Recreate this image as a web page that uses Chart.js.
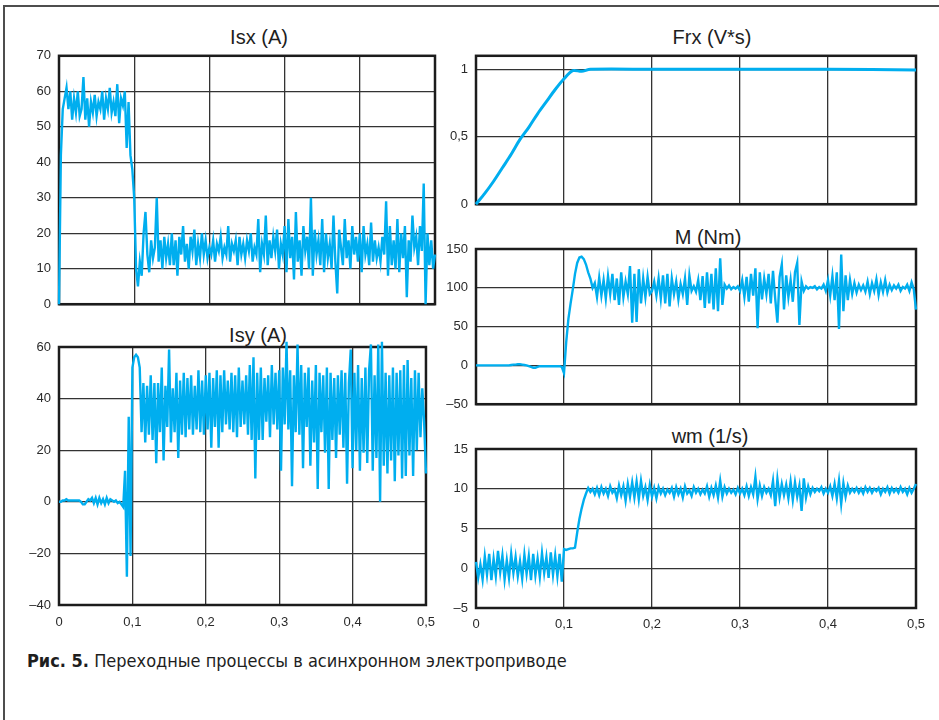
<!DOCTYPE html>
<html>
<head>
<meta charset="utf-8">
<script src="https://cdn.jsdelivr.net/npm/chart.js@4.4.0/dist/chart.umd.min.js"></script>
<style>
body{margin:0;background:#fff;width:939px;height:720px;overflow:hidden;position:relative;font-family:"Liberation Sans",Arial,sans-serif}
.frame{position:absolute;left:3px;top:5px;width:960px;height:740px;border-top:2px solid #4d4d4d;border-left:2px solid #4d4d4d}
canvas{position:absolute}
.ttl{position:absolute;font-size:20px;line-height:20px;color:#1e1e1e;transform:translate(-50%,-50%);white-space:nowrap}
.caption{position:absolute;left:27px;top:649px;font-family:"Liberation Sans Narrow","DejaVu Sans Condensed",sans-serif;font-stretch:condensed;font-size:18px;line-height:24px;color:#1e1e1e;white-space:nowrap}
</style>
</head>
<body>
<div class="frame"></div>

<div class="ttl" style="left:259px;top:37px">Isx (A)</div>
<div class="ttl" style="left:258px;top:335px">Isy (A)</div>
<div class="ttl" style="left:712px;top:37px">Frx (V*s)</div>
<div class="ttl" style="left:708px;top:237px">M (Nm)</div>
<div class="ttl" style="left:710px;top:436px">wm (1/s)</div>

<canvas id="isx" width="445" height="280" style="left:0;top:40px"></canvas>
<canvas id="isy" width="445" height="310" style="left:0;top:330px"></canvas>
<canvas id="frx" width="499" height="180" style="left:440px;top:40px"></canvas>
<canvas id="mom" width="499" height="190" style="left:440px;top:230px"></canvas>
<canvas id="wm" width="499" height="210" style="left:440px;top:430px"></canvas>

<div class="caption"><b>Рис. 5.</b> Переходные процессы в асинхронном электроприводе</div>

<script>
// sample step of the simulated signals, s
var dt = 0.0025;

var isx = [
	0, 42, 55, 58, 61, 55, 60, 52, 58, 54,
	60, 53, 55, 64, 52, 58, 50, 57, 54, 59,
	53, 57, 55, 60, 52, 58, 55, 61, 54, 57,
	53, 62, 51, 58, 56, 60, 44, 57, 42, 38,
	30, 10, 5, 12, 8, 20, 26, 14, 9, 18,
	13, 16, 30, 12, 18, 10, 19, 13, 17, 11,
	20, 11, 18, 8, 19, 14, 22, 12, 17, 10,
	19, 15, 21, 11, 17, 13, 20, 14, 18, 13,
	16, 14, 18, 12, 17, 15, 19, 13, 16, 14,
	22, 12, 17, 15, 18, 11, 19, 14, 17, 13,
	18, 15, 20, 12, 16, 14, 24, 9, 17, 14,
	25, 11, 18, 13, 19, 15, 21, 10, 17, 14,
	22, 9, 24, 13, 19, 7, 26, 12, 18, 8,
	22, 15, 19, 10, 30, 8, 21, 14, 18, 11,
	24, 9, 20, 13, 17, 10, 25, 12, 3, 21,
	16, 11, 24, 13, 18, 10, 22, 14, 19, 12,
	20, 9, 22, 14, 17, 11, 23, 12, 18, 13,
	16, 12, 19, 14, 29, 8, 22, 11, 18, 10,
	24, 9, 20, 13, 22, 2, 18, 12, 25, 16,
	19, 11, 22, 15, 34, 0, 20, 11, 18, 10,
	14
];

var isy = [
	0, 0, 0.5, 0.5, 1, 0.5, 0.5, 0.5, 0.5, 0.5,
	0.5, 0.5, 0, -1, -1, 0, 1, 0.5, 1.5, -0.5,
	1.5, -1, 1.5, -0.5, 1, -1, 1.5, -0.5, 1, 0.5,
	0, 0.5, -0.5, 0, -1, -2, 12, -29, 33, -21,
	52, 56, 57, 56, 52, 27, 46, 23, 45, 26,
	49, 24, 46, 15, 46, 27, 52, 16, 45, 29,
	59, 23, 44, 27, 50, 17, 47, 26, 50, 25,
	48, 28, 49, 26, 45, 28, 51, 27, 47, 26,
	49, 28, 50, 21, 48, 29, 51, 21, 49, 27,
	51, 30, 47, 28, 50, 27, 49, 25, 52, 29,
	47, 30, 49, 26, 53, 24, 56, 9, 50, 24,
	52, 24, 48, 31, 49, 25, 53, 30, 50, 28,
	51, 12, 52, 30, 62, 28, 51, 6, 49, 27,
	61, 26, 53, 13, 50, 29, 52, 14, 47, 23,
	53, 5, 50, 27, 49, 19, 52, 5, 50, 24,
	48, 17, 49, 26, 51, 21, 50, 7, 46, 59,
	13, 50, 20, 53, 12, 48, 19, 52, 15, 51,
	61, 12, 49, 17, 61, 0, 62, 14, 50, 11,
	49, 16, 52, 8, 50, 18, 51, 9, 53, 10,
	55, 18, 48, 10, 51, 20, 50, 25, 44, 31,
	11
];

var frxT = [0, 0.01, 0.02, 0.03, 0.04, 0.05, 0.06, 0.07, 0.08, 0.09, 0.1, 0.11, 0.12, 0.13, 0.2, 0.3, 0.4, 0.5];
var frx = [0, 0.08, 0.17, 0.27, 0.37, 0.48, 0.57, 0.67, 0.76, 0.85, 0.93, 0.99, 0.985, 1.0, 1.0, 1.0, 1.0, 0.995];

var mom = [
	0, 0, 0, 0, 0, 0, 0, 0, 0, 0,
	0, 0, 0, 0, 0, 0, 0.5, 1, 1, 1.5,
	1.5, 1, 0.5, 0, -1, -2, -3, -3, -2, -1,
	-1, -1, -1, -1, -1, -1, -1, -1, -1, -2,
	-10, 30, 60, 80, 98, 118, 132, 139, 140, 137,
	130, 120, 112, 100, 106, 88, 113, 90, 110, 86,
	115, 92, 118, 84, 112, 78, 120, 88, 108, 92,
	128, 55, 118, 56, 124, 80, 112, 88, 114, 92,
	96, 108, 90, 112, 86, 116, 80, 118, 76, 112,
	92, 108, 85, 105, 92, 112, 78, 116, 96, 102,
	95, 110, 84, 115, 74, 120, 80, 118, 72, 125,
	70, 138, 78, 104, 99, 103, 98, 101, 99, 102,
	96, 110, 88, 114, 82, 118, 90, 125, 48, 120,
	85, 112, 92, 118, 80, 122, 86, 55, 114, 130,
	72, 116, 88, 110, 82, 120, 132, 52, 108, 96,
	102, 99, 101, 100, 102, 98, 101, 99, 104, 96,
	110, 90, 115, 84, 120, 47, 143, 70, 116, 84,
	110, 92, 106, 94, 104, 97, 103, 95, 108, 92,
	106, 96, 111, 91, 107, 95, 110, 94, 104, 97,
	103, 99, 104, 96, 101, 99, 104, 96, 107, 98,
	72
];

var wm = [
	0.8, -1.2, 0.5, -1.4, 1.5, -0.8, 1.8, -1.5, 1.2, -1.0,
	2.2, -0.5, 1.6, -1.4, 1.0, -1.2, 1.8, -0.6, 1.4, -1.0,
	0.9, -1.3, 1.7, -0.7, 1.5, -1.5, 1.8, -0.9, 1.2, -1.1,
	1.9, -0.6, 1.4, -1.2, 2.0, -0.8, 1.6, -1.0, 1.8, -1.7,
	2.4, 2.3, 2.4, 2.5, 2.5, 2.6, 4.5, 6.2, 7.5, 8.6,
	9.4, 10.1, 9.6, 10.0, 9.3, 10.1, 9.2, 10.2, 9.4, 10.0,
	9.1, 10.3, 9.5, 9.9, 8.8, 10.4, 9.2, 10.3, 8.5, 10.6,
	9.0, 10.8, 8.9, 10.9, 8.7, 11.0, 9.1, 10.2, 8.6, 10.5,
	9.0, 10.1, 8.8, 10.2, 9.4, 10.0, 9.2, 9.9, 9.5, 10.1,
	9.0, 10.2, 9.3, 10.0, 8.9, 10.3, 9.4, 9.8, 9.1, 10.2,
	9.5, 10.0, 9.3, 9.9, 9.4, 10.3, 9.0, 10.1, 9.2, 10.4,
	8.9, 11.0, 9.0, 10.2, 9.4, 10.0, 9.5, 9.9, 9.3, 10.1,
	9.4, 10.0, 9.2, 10.3, 9.1, 10.2, 9.3, 11.5, 8.7, 10.4,
	9.1, 10.2, 9.5, 10.0, 9.2, 11.0, 7.8, 11.2, 8.9, 10.6,
	9.2, 10.5, 8.8, 10.9, 8.6, 10.8, 9.0, 10.4, 7.2, 11.3,
	8.9, 10.3, 9.3, 10.1, 9.6, 10.0, 9.7, 10.2, 9.4, 10.0,
	9.5, 10.3, 9.1, 10.6, 8.8, 11.0, 8.1, 10.7, 9.0, 10.4,
	9.5, 10.0, 9.6, 10.1, 9.5, 10.0, 9.4, 10.2, 9.6, 10.1,
	9.5, 10.0, 9.7, 10.1, 9.3, 10.0, 9.6, 10.2, 9.4, 10.1,
	9.6, 10.0, 9.5, 10.2, 9.6, 10.0, 9.3, 10.1, 9.5, 10.0,
	10.6
];

var blue = '#00aeef';

// black box round the plot area
var framePlugin = {
	id: 'frame',
	beforeDatasetsDraw: function(chart) {
		var a = chart.chartArea, c = chart.ctx;
		c.save();
		c.strokeStyle = '#1c1c1c';
		c.lineWidth = 2.5;
		c.strokeRect(a.left, a.top, a.right - a.left, a.bottom - a.top);
		c.restore();
	}
};

function fmt(v) {
	if (v === 0) return '0';
	var s = String(Math.round(v * 100) / 100).replace('.', ',');
	return v < 0 ? '\u2013' + s.replace('-', '') : s;
}

function pts(times, vals) {
	var out = [];
	for (var i in vals) {
		out.push({x: times ? times[i] : i * dt, y: vals[i]});
	}
	return out;
}

function drawChart(id, data, o) {
	var ctx = document.getElementById(id).getContext('2d');
	return new Chart(ctx, {
		type: 'line',
		data: {
			datasets: [{
				data: data,
				borderColor: blue,
				borderWidth: o.lw || 2.4,
				pointRadius: 0,
				tension: o.tension || 0,
				clip: 10
			}]
		},
		options: {
			responsive: false,
			animation: false,
			devicePixelRatio: 1,
			layout: {padding: {top: o.top, right: o.right, left: 0, bottom: 0}},
			plugins: {legend: {display: false}, tooltip: {enabled: false}},
			scales: {
				x: {
					type: 'linear', min: 0, max: 0.5,
					border: {display: false},
					grid: {color: '#333', lineWidth: 1.3, drawTicks: false},
					ticks: {
						display: o.showX, stepSize: 0.1, padding: o.xPad || 10,
						color: '#2a2a2a', font: {family: 'Liberation Sans', size: 13},
						callback: function(v) { return v === 0 ? '0' : v.toFixed(1).replace('.', ','); }
					},
					afterFit: function(s) { s.height = o.xh; }
				},
				y: {
					min: o.min, max: o.max,
					border: {display: false},
					grid: {color: '#333', lineWidth: 1.3, drawTicks: false},
					ticks: {
						stepSize: o.step, padding: 8, includeBounds: false,
						color: '#2a2a2a', font: {family: 'Liberation Sans', size: 13},
						callback: fmt
					},
					afterFit: function(s) { s.width = o.yw; }
				}
			}
		},
		plugins: [framePlugin]
	});
}

drawChart('isx', pts(null, isx), {min: 0, max: 70, step: 10, top: 12, right: 10, yw: 59, xh: 14, showX: false});
drawChart('isy', pts(null, isy), {min: -40, max: 60, step: 20, top: 17, right: 10, yw: 59, xh: 35, showX: true, xPad: 10});
drawChart('frx', pts(frxT, frx), {min: 0, max: 1.1, step: 0.5, top: 12, right: 23, yw: 36, xh: 10, showX: false, lw: 3, tension: 0.3});
drawChart('mom', pts(null, mom), {min: -50, max: 150, step: 50, top: 19, right: 23, yw: 36, xh: 11, showX: false});
drawChart('wm', pts(null, wm), {min: -5, max: 15, step: 5, top: 19, right: 23, yw: 36, xh: 32, showX: true, xPad: 9});
</script>
</body>
</html>
